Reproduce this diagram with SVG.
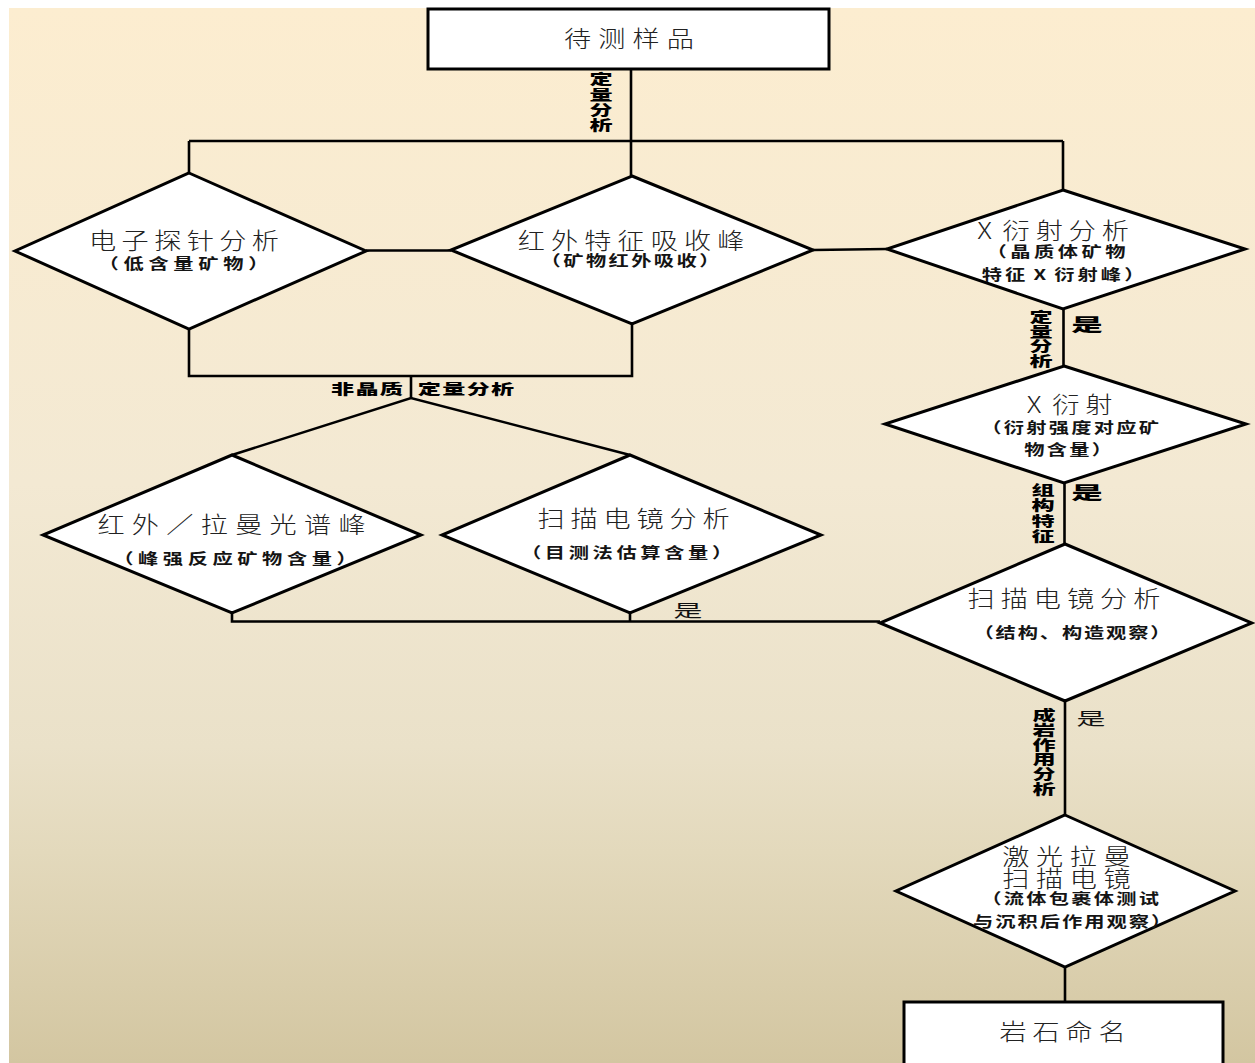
<svg xmlns="http://www.w3.org/2000/svg" width="1255" height="1063" viewBox="0 0 1255 1063">
<defs>
<linearGradient id="bg" x1="0" y1="0" x2="0" y2="1">
<stop offset="0" stop-color="#FCEDD0"/>
<stop offset="0.45" stop-color="#F3E9D3"/>
<stop offset="0.7" stop-color="#EAE1C9"/>
<stop offset="0.8" stop-color="#E3D9BC"/>
<stop offset="1" stop-color="#D3C6A1"/>
</linearGradient>
<style>
.shape{fill:#fff;stroke:#000;stroke-width:3;stroke-linejoin:miter}
.conn{fill:none;stroke:#000;stroke-width:2.6}
text{font-family:"Noto Sans CJK SC","Noto Sans CJK JP",sans-serif;text-anchor:middle}
.m{font-size:23px;font-weight:300;fill:#222}
.s{font-size:15px;font-weight:700;fill:#141414}
.b{font-size:14px;font-weight:900;fill:#000}
.v{writing-mode:vertical-rl;text-anchor:start}
.yb{font-size:17px;font-weight:900;fill:#000}
.yr{font-size:17px;font-weight:400;fill:#111}
</style>
</defs>
<rect x="9" y="8" width="1246" height="1055" fill="url(#bg)"/>

<g id="connectors">
<line class="conn" x1="631" y1="69" x2="631" y2="176"/>
<line class="conn" x1="189" y1="141" x2="1063" y2="141"/>
<line class="conn" x1="189" y1="141" x2="189" y2="173"/>
<line class="conn" x1="1063" y1="141" x2="1063" y2="190"/>
<line class="conn" x1="366" y1="250.5" x2="451" y2="250.5"/>
<line class="conn" x1="813" y1="250" x2="887" y2="249"/>
<polyline class="conn" points="189,329 189,376 632,376 632,324"/>
<line class="conn" x1="411" y1="376" x2="411" y2="398"/>
<polyline class="conn" points="232,455 411,398 630,455"/>
<polyline class="conn" points="232,613 232,621.5 880,621.5"/>
<line class="conn" x1="630" y1="613" x2="630" y2="621.5"/>
<line class="conn" x1="1063.5" y1="309" x2="1063.5" y2="366"/>
<line class="conn" x1="1064.5" y1="483" x2="1064.5" y2="544"/>
<line class="conn" x1="1065" y1="701" x2="1065" y2="815"/>
<line class="conn" x1="1065" y1="967" x2="1065" y2="1002"/>
<text class="b v" transform="translate(601,72) scale(1.65,1)" letter-spacing="1.3">定量分析</text>
<text class="b" transform="translate(367,393.8) scale(1.65,1)" x="0.4" letter-spacing="0.8">非晶质</text>
<text class="b" transform="translate(466,393.8) scale(1.65,1)" x="0.4" letter-spacing="0.8">定量分析</text>
<text class="b v" transform="translate(1041,309.5) scale(1.65,1)" letter-spacing="0.8">定量分析</text>
<text class="yb" transform="translate(1087,330.5) scale(1.85,1)">是</text>
<text class="b v" transform="translate(1043,482.5) scale(1.65,1)" letter-spacing="1.4">组构特征</text>
<text class="yb" transform="translate(1087,499) scale(1.85,1)">是</text>
<text class="yr" transform="translate(688,616.5) scale(1.7,1)">是</text>
<text class="b v" transform="translate(1044,707.5) scale(1.65,1)" letter-spacing="0.9">成岩作用分析</text>
<text class="yr" transform="translate(1091,725) scale(1.7,1)">是</text>
</g>

<g id="sample">
<rect class="shape" x="428" y="9" width="401" height="60"/>
<text class="m" transform="translate(629,47.1) scale(1.18,1)" x="3" letter-spacing="6.1">待测样品</text>
</g>

<g id="epma">
<polygon class="shape" points="189,173 366,251 189,329 15,251"/>
<text class="m" transform="translate(184,249.3) scale(1.18,1)" x="2.3" letter-spacing="4.6">电子探针分析</text>
<text class="s" transform="translate(183.5,268.7) scale(1.35,1)" x="1.7" letter-spacing="3.5">（低含量矿物）</text>
</g>

<g id="ir">
<polygon class="shape" points="632,176 813,250 632,324 451,250"/>
<text class="m" transform="translate(631,249.3) scale(1.18,1)" x="2.6" letter-spacing="5.2">红外特征吸收峰</text>
<text class="s" transform="translate(630,266.4) scale(1.35,1)" x="0.9" letter-spacing="1.8">（矿物红外吸收）</text>
</g>

<g id="xrd">
<polygon class="shape" points="1063,190 1245,249 1063,309 887,249"/>
<text class="m" transform="translate(1053,239.3) scale(1.18,1)" x="2.5" letter-spacing="5">X <tspan dx="-6">衍射分析</tspan></text>
<text class="s" transform="translate(1056,257) scale(1.35,1)" x="1.3" letter-spacing="2.6">（晶质体矿物</text>
<text class="s" transform="translate(1063,280.4) scale(1.35,1)" x="1.2" letter-spacing="2.3">特征 <tspan dx="-2">X</tspan> <tspan dx="-2">衍射峰）</tspan></text>
</g>

<g id="xrd-quant">
<polygon class="shape" points="1064,366 1246,424 1064,483 885,424"/>
<text class="m" transform="translate(1069.5,413.3) scale(1.18,1)" x="2.5" letter-spacing="5">X <tspan dx="-6">衍射</tspan></text>
<text class="s" transform="translate(1070,432.9) scale(1.35,1)" x="0.9" letter-spacing="1.7">（衍射强度对应矿</text>
<text class="s" transform="translate(1068,455.4) scale(1.35,1)" x="0.9" letter-spacing="1.7">物含量）</text>
</g>

<g id="spectra">
<polygon class="shape" points="232,455 421,535 232,613 43,535"/>
<text class="m" transform="translate(231.5,533.3) scale(1.18,1)" x="3.1" letter-spacing="6.2">红外／拉曼光谱峰</text>
<text class="s" transform="translate(235,564.4) scale(1.35,1)" x="1.7" letter-spacing="3.4">（峰强反应矿物含量）</text>
</g>

<g id="sem-estimate">
<polygon class="shape" points="630,455 821,535 630,613 442,535"/>
<text class="m" transform="translate(633.5,527) scale(1.18,1)" x="2.5" letter-spacing="5">扫描电镜分析</text>
<text class="s" transform="translate(626.5,558.4) scale(1.35,1)" x="1.4" letter-spacing="2.7">（目测法估算含量）</text>
</g>

<g id="sem-structure">
<polygon class="shape" points="1065,544 1252,623 1065,701 880,623"/>
<text class="m" transform="translate(1064,607.3) scale(1.18,1)" x="2.5" letter-spacing="5.1">扫描电镜分析</text>
<text class="s" transform="translate(1072,637.9) scale(1.35,1)" x="0.7" letter-spacing="1.4">（结构、构造观察）</text>
</g>

<g id="raman-sem">
<polygon class="shape" points="1065,815 1235,891 1065,967 896,891"/>
<text class="m" transform="translate(1066.5,865.3) scale(1.18,1)" x="2.8" letter-spacing="5.6">激光拉曼</text>
<text class="m" transform="translate(1066.5,886.8) scale(1.18,1)" x="2.8" letter-spacing="5.6">扫描电镜</text>
<text class="s" transform="translate(1070,904.4) scale(1.35,1)" x="0.9" letter-spacing="1.7">（流体包裹体测试</text>
<text class="s" transform="translate(1072,926.9) scale(1.35,1)" x="0.8" letter-spacing="1.5">与沉积后作用观察）</text>
</g>

<g id="naming">
<rect class="shape" x="904" y="1002" width="319" height="66"/>
<text class="m" transform="translate(1062.5,1039.7) scale(1.18,1)" x="2.5" letter-spacing="5">岩石命名</text>
</g>
</svg>
